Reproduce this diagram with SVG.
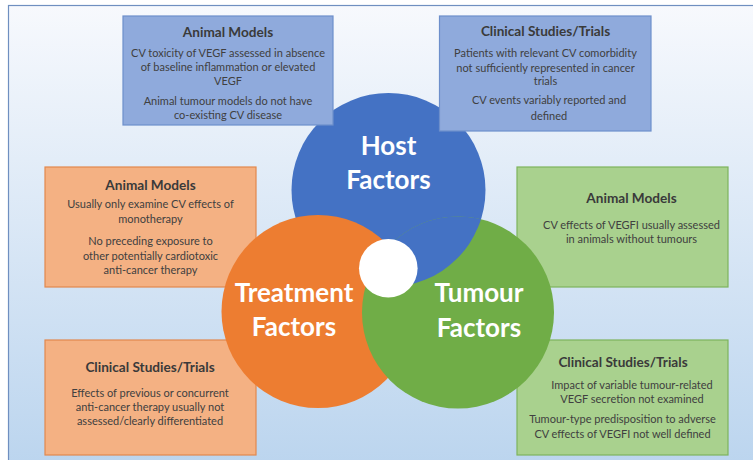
<svg xmlns="http://www.w3.org/2000/svg" width="753" height="460" viewBox="0 0 753 460">
  <defs>
    <linearGradient id="bg" x1="0" y1="0" x2="0" y2="1">
      <stop offset="0" stop-color="#f7f9fd"/>
      <stop offset="1" stop-color="#bad4ee"/>
    </linearGradient>
    <clipPath id="greenClip">
      <circle cx="458" cy="312.5" r="96"/>
    </clipPath>
    <style>
      .box-b { fill: #8faadc; stroke: #6d8fcb; stroke-width: 1.2; }
      .box-o { fill: #f4b183; stroke: #e2884e; stroke-width: 1.2; }
      .box-g { fill: #a9d18e; stroke: #7eb35c; stroke-width: 1.2; }
      .hd { font-family: Lato, "Liberation Sans", sans-serif; font-weight: bold; font-size: 13.6px; fill: #3a3a3a; text-anchor: middle; }
      .tx { font-family: Lato, "Liberation Sans", sans-serif; font-size: 11px; fill: #404040; text-anchor: middle; }
      .cl { font-family: Lato, "Liberation Sans", sans-serif; font-weight: bold; font-size: 26px; fill: #ffffff; text-anchor: middle; }
    </style>
  </defs>

  <rect x="0" y="0" width="753" height="460" fill="#ffffff"/>
  <rect id="panel" x="8.5" y="5.5" width="760" height="470" fill="url(#bg)" stroke="#6f8fc0" stroke-width="1.2"/>

  <g id="treatment-animal">
    <rect class="box-o" x="45" y="167" width="211" height="120"/>
    <text class="hd" x="150.5" y="190">Animal Models</text>
    <text class="tx" x="150.5" y="208">Usually only examine CV effects of</text>
    <text class="tx" x="150.5" y="222.5">monotherapy</text>
    <text class="tx" x="150.5" y="245">No preceding exposure to</text>
    <text class="tx" x="150.5" y="259.5">other potentially cardiotoxic</text>
    <text class="tx" x="150.5" y="274">anti-cancer therapy</text>
  </g>

  <g id="tumour-animal">
    <rect class="box-g" x="517" y="167" width="211" height="120"/>
    <text class="hd" x="631.5" y="202.5">Animal Models</text>
    <text class="tx" x="631.5" y="229">CV effects of VEGFI usually assessed</text>
    <text class="tx" x="631.5" y="243">in animals without tumours</text>
  </g>

  <g id="treatment-clinical">
    <rect class="box-o" x="45" y="340" width="211" height="115"/>
    <text class="hd" x="150" y="372">Clinical Studies/Trials</text>
    <text class="tx" x="150" y="397">Effects of previous or concurrent</text>
    <text class="tx" x="150" y="411">anti-cancer therapy usually not</text>
    <text class="tx" x="150" y="425">assessed/clearly differentiated</text>
  </g>

  <g id="tumour-clinical">
    <rect class="box-g" x="517" y="340" width="211" height="115"/>
    <text class="hd" x="623" y="367">Clinical Studies/Trials</text>
    <text class="tx" x="632" y="389">Impact of variable tumour-related</text>
    <text class="tx" x="632" y="403">VEGF secretion not examined</text>
    <text class="tx" x="622.5" y="423">Tumour-type predisposition to adverse</text>
    <text class="tx" x="622.5" y="437.5">CV effects of VEGFI not well defined</text>
  </g>

  <g id="host-factors">
    <circle cx="388.5" cy="190" r="97" fill="#4472c4"/>
  </g>
  <g id="treatment-factors">
    <circle cx="318" cy="311.5" r="96.5" fill="#ed7d31"/>
  </g>
  <g id="tumour-factors">
    <circle cx="458" cy="312.5" r="96" fill="#70ad47"/>
  </g>
  <g id="host-over-tumour">
    <circle cx="388.5" cy="190" r="97" fill="#4472c4" clip-path="url(#greenClip)"/>
  </g>
  <g id="centre">
    <circle cx="388.3" cy="268.3" r="29.3" fill="#ffffff"/>
  </g>
  <g id="circle-labels">
    <text class="cl" x="388.5" y="154.5">Host</text>
    <text class="cl" x="388.5" y="189">Factors</text>
    <text class="cl" x="294" y="301.5">Treatment</text>
    <text class="cl" x="294" y="336">Factors</text>
    <text class="cl" x="479" y="301.5">Tumour</text>
    <text class="cl" x="479" y="336.5">Factors</text>
  </g>

  <g id="host-animal">
    <rect class="box-b" x="123" y="16" width="210" height="109"/>
    <text class="hd" x="228" y="37">Animal Models</text>
    <text class="tx" x="228" y="57">CV toxicity of VEGF assessed in absence</text>
    <text class="tx" x="228" y="71">of baseline inflammation or elevated</text>
    <text class="tx" x="228" y="85">VEGF</text>
    <text class="tx" x="228" y="105">Animal tumour models do not have</text>
    <text class="tx" x="228" y="119">co-existing CV disease</text>
  </g>

  <g id="host-clinical">
    <rect class="box-b" x="439.5" y="16" width="211.5" height="115"/>
    <text class="hd" x="545.5" y="36">Clinical Studies/Trials</text>
    <text class="tx" x="545.5" y="56.5">Patients with relevant CV comorbidity</text>
    <text class="tx" x="545.5" y="71.5">not sufficiently represented in cancer</text>
    <text class="tx" x="545.5" y="85">trials</text>
    <text class="tx" x="549" y="104">CV events variably reported and</text>
    <text class="tx" x="549" y="119.5">defined</text>
  </g>

  <g id="connectors"/>
</svg>
